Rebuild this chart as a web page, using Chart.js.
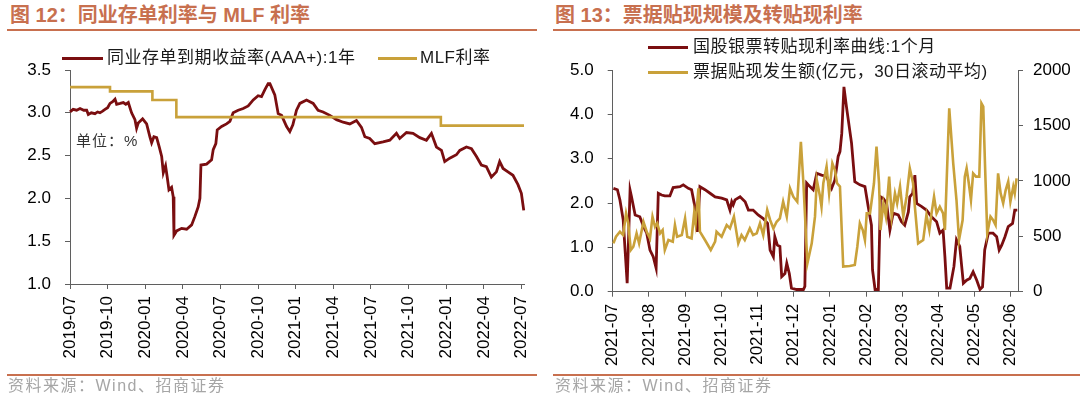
<!DOCTYPE html>
<html><head><meta charset="utf-8">
<script src="https://cdn.jsdelivr.net/npm/chart.js@4.4.0/dist/chart.umd.min.js"></script>
<style>
body{margin:0;width:1080px;height:397px;background:#fff;overflow:hidden;position:relative;font-family:"Liberation Sans",Arial,"Noto Sans CJK SC",sans-serif;}
.title{position:absolute;top:3px;font-size:20px;line-height:24px;font-weight:bold;color:#c8704f;white-space:nowrap;}
.rule{position:absolute;height:2px;background:#c8704f;}
.src{position:absolute;top:376px;font-size:16px;line-height:20px;letter-spacing:1.5px;color:#a6a6a6;white-space:nowrap;}
.leg{position:absolute;font-size:17px;line-height:20px;letter-spacing:0.5px;color:#1a1a1a;white-space:nowrap;}
.sw{position:absolute;height:3px;}
.unit{position:absolute;left:76px;top:132px;font-size:15px;line-height:18px;letter-spacing:1px;color:#333;white-space:nowrap;}
canvas{position:absolute;top:0;}
</style>
</head><body>
<div class="title" style="left:10px">图 12：同业存单利率与 MLF 利率</div>
<div class="rule" style="left:7px;width:530px;top:29px"></div>
<div class="title" style="left:555px">图 13：票据贴现规模及转贴现利率</div>
<div class="rule" style="left:553px;width:527px;top:29px"></div>
<canvas id="c1" width="540" height="397" style="left:0"></canvas>
<canvas id="c2" width="540" height="397" style="left:540px"></canvas>
<div class="sw" style="left:62px;width:41px;top:57px;background:#7a0e10"></div>
<div class="leg" style="left:107px;top:48px">同业存单到期收益率(AAA+):1年</div>
<div class="sw" style="left:378px;width:39px;top:57px;background:#c9a13a"></div>
<div class="leg" style="left:420px;top:48px">MLF利率</div>
<div class="unit">单位：%</div>
<div class="sw" style="left:648px;width:40px;top:46px;background:#7a0e10"></div>
<div class="leg" style="left:693px;top:37px">国股银票转贴现利率曲线:1个月</div>
<div class="sw" style="left:648px;width:40px;top:71px;background:#c9a13a"></div>
<div class="leg" style="left:693px;top:62px">票据贴现发生额(亿元，30日滚动平均)</div>
<div class="src" style="left:8px">资料来源：Wind、招商证券</div>
<div class="rule" style="left:7px;width:530px;top:374px"></div>
<div class="src" style="left:555px">资料来源：Wind、招商证券</div>
<div class="rule" style="left:553px;width:527px;top:374px"></div>
<script>
// ---- Chart 12 data (x = months since 2019-07) ----
const ncdX=[0,0.25,0.53,0.8,1.1,1.33,1.46,1.7,1.99,2.2,2.39,2.6,2.79,3.0,3.19,3.4,3.59,3.72,4.0,4.25,4.45,4.65,4.91,5.18,5.31,5.44,5.79,6.11,6.37,6.51,6.69,6.91,7.12,7.31,7.44,7.62,7.75,7.89,8.1,8.23,8.29,8.5,8.9,9.3,9.7,9.96,10.22,10.36,10.44,10.89,11.29,11.42,11.63,11.74,12.09,12.48,12.75,13.01,13.41,13.81,14.21,14.61,15.0,15.27,15.54,15.8,15.94,16.33,16.6,16.87,17.27,17.53,17.77,18.06,18.33,18.86,19.39,19.78,20.18,20.72,21.25,21.78,22.31,22.84,23.24,23.51,23.9,24.3,24.96,25.5,26.03,26.29,26.83,27.35,27.89,28.42,28.82,29.22,29.62,29.88,30.28,30.81,31.08,31.61,32.01,32.41,32.8,33.2,33.6,34.0,34.26,34.53,34.92,35.32,35.72,35.99,36.18];
const ncdY=[3.01,3.04,3.03,3.05,3.03,3.03,2.98,3.0,2.99,3.01,3.0,3.02,3.04,3.06,3.11,3.13,3.16,3.1,3.11,3.12,3.1,3.12,3.0,2.92,2.82,2.88,2.93,2.87,2.72,2.65,2.72,2.71,2.6,2.49,2.3,2.38,2.25,2.1,2.13,2.02,1.57,1.62,1.65,1.64,1.69,1.79,1.9,2.0,2.39,2.4,2.45,2.57,2.64,2.8,2.84,2.87,2.9,3.0,3.03,3.05,3.08,3.15,3.2,3.19,3.27,3.34,3.34,3.21,2.99,2.97,2.84,2.78,2.86,3.03,3.11,3.15,3.11,3.03,3.01,2.97,2.92,2.89,2.87,2.91,2.83,2.72,2.7,2.64,2.66,2.68,2.76,2.7,2.77,2.76,2.71,2.68,2.76,2.6,2.56,2.43,2.47,2.51,2.56,2.6,2.58,2.49,2.39,2.37,2.25,2.31,2.43,2.35,2.31,2.27,2.16,2.06,1.86];
const mlfX=[0,3.19,6.57,8.48,29.57,36.2];
const mlfY=[3.30,3.25,3.15,2.95,2.85,2.85];
const leftTicks=['2019-07','2019-10','2020-01','2020-04','2020-07','2020-10','2021-01','2021-04','2021-07','2021-10','2022-01','2022-04','2022-07'];

// ---- Chart 13 data (x = months since 2021-07) ----
const rateX=[0.02,0.13,0.2,0.29,0.4,0.48,0.52,0.62,0.75,0.85,0.94,1.03,1.12,1.2,1.26,1.35,1.44,1.58,1.67,1.86,1.95,2.09,2.18,2.27,2.34,2.41,2.55,2.69,2.83,3.01,3.15,3.24,3.29,3.33,3.38,3.52,3.66,3.75,3.88,4.02,4.16,4.28,4.35,4.44,4.48,4.55,4.62,4.67,4.76,4.81,4.88,4.94,5.08,5.27,5.31,5.36,5.45,5.54,5.64,5.77,5.91,6.05,6.14,6.23,6.28,6.33,6.39,6.46,6.6,6.69,6.83,6.97,7.06,7.15,7.18,7.25,7.34,7.4,7.48,7.57,7.66,7.75,7.89,7.98,8.07,8.17,8.21,8.29,8.35,8.4,8.54,8.67,8.81,8.95,9.04,9.13,9.18,9.23,9.32,9.43,9.5,9.59,9.69,9.78,9.87,9.96,10.06,10.15,10.22,10.28,10.38,10.51,10.61,10.68,10.75,10.84,10.93,11.05,11.11,11.18];
const rateY=[2.33,2.3,2.07,1.62,0.19,2.29,2.14,1.73,1.69,1.47,1.32,0.94,0.79,0.53,2.22,2.18,2.16,2.16,2.35,2.37,2.41,2.33,2.3,1.92,1.35,2.37,2.3,2.22,2.14,2.11,2.07,1.84,2.03,1.96,2.07,2.14,2.03,1.84,1.84,1.73,1.65,1.54,0.94,0.79,1.24,1.05,1.02,0.34,0.41,0.64,0.41,0.08,0.05,0.05,0.12,2.45,2.37,2.3,2.67,2.63,2.6,2.33,2.52,3.05,3.16,3.57,4.62,4.17,3.35,2.48,2.41,2.37,1.92,1.5,0.49,0.05,0.05,2.14,2.1,1.99,1.39,1.77,1.73,1.58,1.5,1.8,2.14,2.22,2.63,1.99,1.92,1.84,1.69,1.58,1.32,1.39,0.79,0.08,0.08,0.57,1.17,1.02,0.19,0.26,0.3,0.45,0.26,0.05,0.11,0.94,1.32,1.32,1.24,0.94,1.05,1.24,1.47,1.54,1.84,1.84];
const volX=[0.02,0.09,0.2,0.29,0.37,0.43,0.5,0.57,0.66,0.73,0.85,0.94,1.03,1.1,1.17,1.23,1.31,1.38,1.44,1.54,1.66,1.72,1.78,1.91,2.0,2.06,2.18,2.25,2.29,2.37,2.41,2.55,2.71,2.83,2.87,3.01,3.15,3.24,3.35,3.47,3.56,3.65,3.79,3.88,3.98,4.07,4.16,4.27,4.35,4.44,4.53,4.62,4.71,4.81,4.9,4.99,5.1,5.2,5.27,5.38,5.5,5.59,5.64,5.73,5.77,5.82,5.91,5.98,6.07,6.14,6.2,6.28,6.37,6.55,6.69,6.76,6.83,6.91,6.97,7.02,7.11,7.22,7.29,7.36,7.4,7.48,7.55,7.64,7.71,7.8,7.86,7.94,8.03,8.12,8.21,8.3,8.35,8.44,8.58,8.67,8.75,8.81,8.88,8.95,9.04,9.13,9.18,9.3,9.41,9.5,9.57,9.67,9.73,9.78,9.84,9.9,9.96,10.04,10.13,10.19,10.24,10.29,10.35,10.44,10.51,10.58,10.65,10.72,10.79,10.86,10.93,10.99,11.07,11.11,11.16];
const volY=[436,496,541,511,707,617,376,406,526,436,631,541,481,677,586,617,526,556,376,466,451,601,496,511,662,496,481,707,617,933,541,466,376,451,541,496,601,571,677,436,511,466,571,511,526,617,511,737,647,571,631,662,812,677,933,857,812,1353,978,256,436,677,1008,857,767,978,1128,887,1158,1098,978,948,226,232,241,406,617,556,466,707,707,978,1308,978,556,797,677,1038,677,887,797,948,677,857,1113,978,767,436,466,692,556,707,857,707,767,707,556,1654,1158,827,466,647,1038,1113,978,827,1068,1038,1038,1699,1669,1128,526,677,647,601,1068,887,797,917,993,812,948,887,1023];
const rightTicks=['2021-07','2021-08','2021-09','2021-10','2021-11','2021-12','2022-01','2022-02','2022-03','2022-04','2022-05','2022-06'];

const RED='#7a0e10', GOLD='#c9a13a', AX='#5f5f5f';
const pts=(xs,ys)=>xs.map((x,i)=>({x:x,y:ys[i]}));
const FONT={family:'"Liberation Sans", Arial, sans-serif',size:17};
function axisGrid(){return {display:true,drawOnChartArea:false,drawTicks:true,tickLength:5,color:AX,lineWidth:1};}
function xScale(max,labels,step,h){
  return {type:'linear',min:0,max:max,
    grid:axisGrid(),border:{display:true,color:AX,width:1},
    afterBuildTicks:s=>{s.ticks=labels.map((l,i)=>({value:i*step}));},
    afterFit:s=>{s.height=h;s.paddingLeft=0;s.paddingRight=0;},
    ticks:{autoSkip:false,maxRotation:90,minRotation:90,padding:7,color:'#000',font:FONT,
      callback:(v)=>labels[Math.round(v/step)]}};
}
Chart.defaults.font.family=FONT.family;

new Chart(document.getElementById('c1'),{
  type:'line',
  data:{datasets:[
    {data:pts(ncdX,ncdY),borderColor:RED,borderWidth:2.8,pointRadius:0,tension:0,clip:3,order:2},
    {data:pts(mlfX,mlfY),borderColor:GOLD,borderWidth:2.6,pointRadius:0,stepped:true,clip:3,order:1}
  ]},
  options:{responsive:false,animation:false,devicePixelRatio:1,
    layout:{padding:{top:70,left:0,right:16,bottom:0}},
    plugins:{legend:{display:false},tooltip:{enabled:false}},
    scales:{
      x:xScale(36.2,leftTicks,3,113),
      y:{type:'linear',min:1,max:3.5,afterFit:s=>{s.width=70;},
        grid:axisGrid(),border:{display:true,color:AX,width:1},
        ticks:{stepSize:0.5,padding:14,color:'#000',font:FONT,callback:v=>v.toFixed(1)}}
    }}
});

new Chart(document.getElementById('c2'),{
  type:'line',
  data:{datasets:[
    {data:pts(rateX,rateY),borderColor:RED,borderWidth:2.8,pointRadius:0,tension:0,clip:3,yAxisID:'y',order:2},
    {data:pts(volX,volY),borderColor:GOLD,borderWidth:2.6,pointRadius:0,tension:0,clip:3,yAxisID:'y2',order:1}
  ]},
  options:{responsive:false,animation:false,devicePixelRatio:1,
    layout:{padding:{top:70,left:0,right:0,bottom:0}},
    plugins:{legend:{display:false},tooltip:{enabled:false}},
    scales:{
      x:xScale(11.2,rightTicks,1,105.3),
      y:{type:'linear',position:'left',min:0,max:5,afterFit:s=>{s.width=72.7;},
        grid:axisGrid(),border:{display:true,color:AX,width:1},
        ticks:{stepSize:1,padding:14,color:'#000',font:FONT,callback:v=>v.toFixed(1)}},
      y2:{type:'linear',position:'right',min:0,max:2000,afterFit:s=>{s.width=62;},
        grid:axisGrid(),border:{display:true,color:AX,width:1},
        ticks:{stepSize:500,padding:10,color:'#000',font:FONT,callback:v=>String(v)}}
    }}
});
</script>
</body></html>
